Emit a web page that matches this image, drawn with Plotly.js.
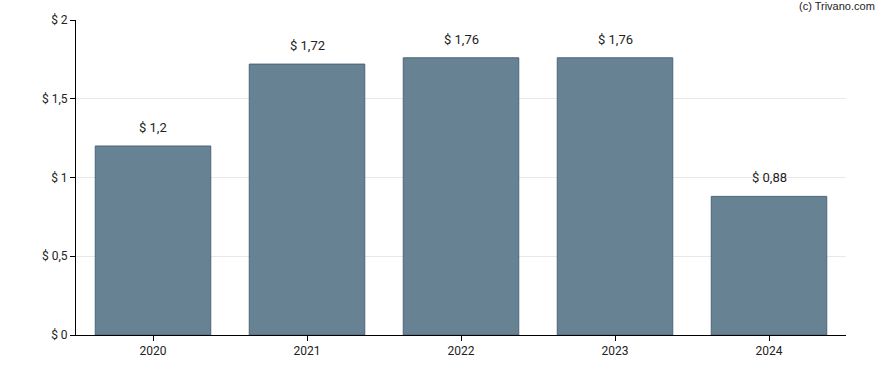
<!DOCTYPE html>
<html>
<head>
<meta charset="utf-8">
<script src="https://cdn.plot.ly/plotly-3.0.1.min.js"></script>
<style>html,body{margin:0;padding:0;background:#fff}#chart{width:888px;height:370px}</style>
</head>
<body>
<div id="chart"></div>
<script>
const years = ["2020", "2021", "2022", "2023", "2024"];
const values = [1.2, 1.72, 1.76, 1.76, 0.88];
const yTickVals = [0, 0.5, 1, 1.5, 2];
const yTickText = ["$ 0", "$ 0,5", "$ 1", "$ 1,5", "$ 2"];

function fmt(v) { return "$ " + String(v).replace(".", ","); }

const trace = {
  type: "bar",
  x: years,
  y: values,
  width: 0.75,
  marker: { color: "#678293", line: { color: "#4a6478", width: 1 } },
  hoverinfo: "none"
};

const annotations = years.map((yr, i) => ({
  x: i, y: values[i], xref: "x", yref: "y",
  text: fmt(values[i]), showarrow: false,
  yanchor: "bottom", yshift: 9,
  font: { family: "Roboto, Arial, sans-serif", size: 13, color: "#222" }
}));
annotations.push({
  xref: "paper", yref: "paper", x: 1.04, y: 1.02, xanchor: "right", yanchor: "bottom",
  text: "(c) Trivano.com", showarrow: false,
  font: { family: "Arial, Liberation Sans, sans-serif", size: 11, color: "#222" }
});

const layout = {
  width: 888, height: 370,
  margin: { l: 76, r: 42, t: 20, b: 35 },
  paper_bgcolor: "#fff", plot_bgcolor: "#fff",
  showlegend: false,
  font: { family: "Roboto, Arial, sans-serif", size: 12, color: "#222" },
  xaxis: {
    type: "category", range: [-0.5, 4.5],
    showline: true, linecolor: "#000", linewidth: 1,
    ticks: "outside", ticklen: 5, tickcolor: "#000",
    showgrid: false, zeroline: false, fixedrange: true,
    tickfont: { size: 12, color: "#222" }
  },
  yaxis: {
    range: [0, 2], tickvals: yTickVals, ticktext: yTickText,
    showline: true, linecolor: "#000", linewidth: 1,
    ticks: "outside", ticklen: 5, tickcolor: "#000",
    showgrid: true, gridcolor: "rgba(0,0,0,0.09)", gridwidth: 1,
    zeroline: false, layer: "above traces", fixedrange: true,
    tickfont: { size: 12, color: "#222" }
  },
  annotations: annotations
};

Plotly.newPlot("chart", [trace], layout, { displayModeBar: false, staticPlot: true });
</script>
</body>
</html>
